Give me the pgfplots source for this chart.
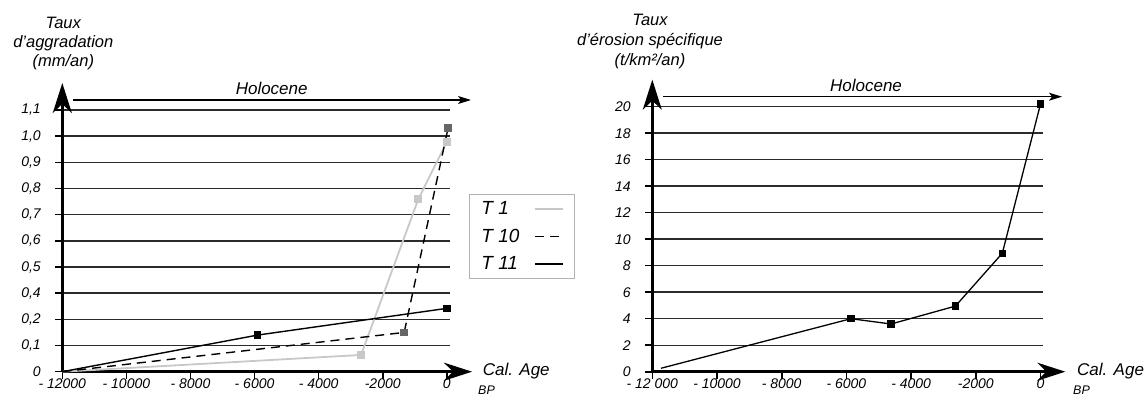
\documentclass[border=0pt]{standalone}
\usepackage{fontspec}
\setmainfont{Liberation Sans}
\usepackage{pgfplots}
\pgfplotsset{compat=1.18}
\usetikzlibrary{arrows.meta}

\definecolor{gridc}{HTML}{2B2B2B}
\definecolor{tone}{HTML}{C8C8C8}
\definecolor{tten}{HTML}{666666}

\pgfplotstableread{
x y
-12000 0
-2675 0.64
-890 6.59
0 8.78
}\tTone
\pgfplotstableread{
x y
-12000 0
-1330 1.50
40 9.31
}\tTten
\pgfplotstableread{
x y
-12000 0
-5900 1.40
0 2.42
}\tTeleven
\pgfplotstableread{
x y
-11730 0.26
-5860 4.0
-4620 3.6
-2630 4.95
-1180 8.94
0 20.2
}\tErosion

\pgfplotsset{
 common/.style={
  scale only axis, anchor=south west,
  axis lines=left,
  x axis line style={line width=2.6pt, shorten >=-22pt, -{Stealth[length=28pt,width=18pt,inset=9pt]}},
  y axis line style={line width=2.6pt, shorten >=-27pt, -{Stealth[length=30pt,width=19pt,inset=9pt]}},
  ymajorgrids, grid style={gridc, line width=1.4pt},
  tick align=outside, major tick length=7pt,
  tick style={black, line width=1.6pt},
  xmin=-12000,
  xtick={-12000,-10000,...,0},
  scaled x ticks=false, scaled y ticks=false,
  ticklabel style={font=\itshape\fontsize{14}{14}\selectfont},
  xticklabel style={yshift=3.5pt},
  yticklabel style={xshift=-11pt},
  clip=false,
 }
}

\begin{document}
\begin{tikzpicture}[x=1pt,y=1pt]
\path[use as bounding box] (0,0) rectangle (1145,396);

\begin{axis}[common, at={(62.3pt,24.3pt)}, width=387.7pt, height=261.7pt,
  xmax=100, ymin=0, ymax=10, ytick={0,...,10},
  yticklabels={0,{0,1},{0,2},{0,4},{0,5},{0,6},{0,7},{0,8},{0,9},{1,0},{1,1}},
  xticklabels={- 12000,- 10000,- 8000,- 6000,- 4000,-2000,0},
  legend plot pos=right,
  legend image code/.code={\draw[#1] (0pt,0pt) -- (28pt,0pt);},
  legend style={at={(1.049,0.679)}, anchor=north west, draw=gray!60, line width=0.8pt,
    font=\itshape\fontsize{19}{20}\selectfont, inner xsep=10pt, inner ysep=5pt,
    row sep=9pt, legend cell align=left},
]
\addplot[tone, line width=1.8pt, mark=square*, mark size=3pt, mark indices={2,3,4}] table {\tTone};
\addlegendentry{\makebox[51pt][l]{T 1}}
\addplot[black, line width=1.4pt, dash pattern=on 9pt off 6pt, mark=square*, mark size=3pt, mark indices={2,3}, mark options={solid, fill=tten, draw=tten}] table {\tTten};
\addlegendentry{\makebox[51pt][l]{T 10}}
\addplot[black, line width=1.4pt, mark=square*, mark size=3pt, mark indices={2,3}] table {\tTeleven};
\addlegendentry{\makebox[51pt][l]{T 11}}
\end{axis}

\begin{axis}[common, at={(652.3pt,24.3pt)}, width=391pt, height=265pt,
  xmax=87, ymin=0, ymax=20, ytick={0,2,...,20},
  yticklabels={0,2,4,6,8,10,12,14,16,18,20},
  xticklabels={- 12 000,- 10000,- 8000,- 6000,- 4000,-2000,0},
]
\addplot[black, line width=1.3pt, mark=square*, mark size=3pt, mark indices={2,3,4,5,6}] table {\tErosion};
\end{axis}

% titles
\begin{scope}[every node/.style={font=\itshape\fontsize{16.5}{19}\selectfont, anchor=base, inner sep=0pt}]
\node at (63.3,367.7) {Taux};
\node at (63.3,348.5) {d'aggradation};
\node at (63.3,329.5) {(mm/an)};
\node at (650,370) {Taux};
\node at (650,350) {d'érosion spécifique};
\node at (650,330) {(t/km²/an)};
\end{scope}

% Holocene
\node[font=\itshape\fontsize{17}{18}\selectfont, anchor=base, inner sep=0pt] at (271.7,301) {Holocene};
\draw[line width=1.2pt, -{Stealth[length=13pt,width=8pt,inset=3pt]}] (73,296) -- (471,296);
\node[font=\itshape\fontsize{17}{18}\selectfont, anchor=base, inner sep=0pt] at (866,304) {Holocene};
\draw[line width=1.2pt, -{Stealth[length=13pt,width=8pt,inset=3pt]}] (663,299.3) -- (1062,299.3);

% axis names
\node[font=\itshape\fontsize{17}{18}\selectfont, anchor=base west, inner sep=0pt] at (482.7,20) {Cal. Age};
\node[font=\itshape\fontsize{12.5}{13}\selectfont, anchor=base west, inner sep=0pt] at (478,1.5) {BP};
\node[font=\itshape\fontsize{17}{18}\selectfont, anchor=base west, inner sep=0pt] at (1077,20) {Cal. Age};
\node[font=\itshape\fontsize{12.5}{13}\selectfont, anchor=base west, inner sep=0pt] at (1073,1.5) {BP};
\end{tikzpicture}
\end{document}
